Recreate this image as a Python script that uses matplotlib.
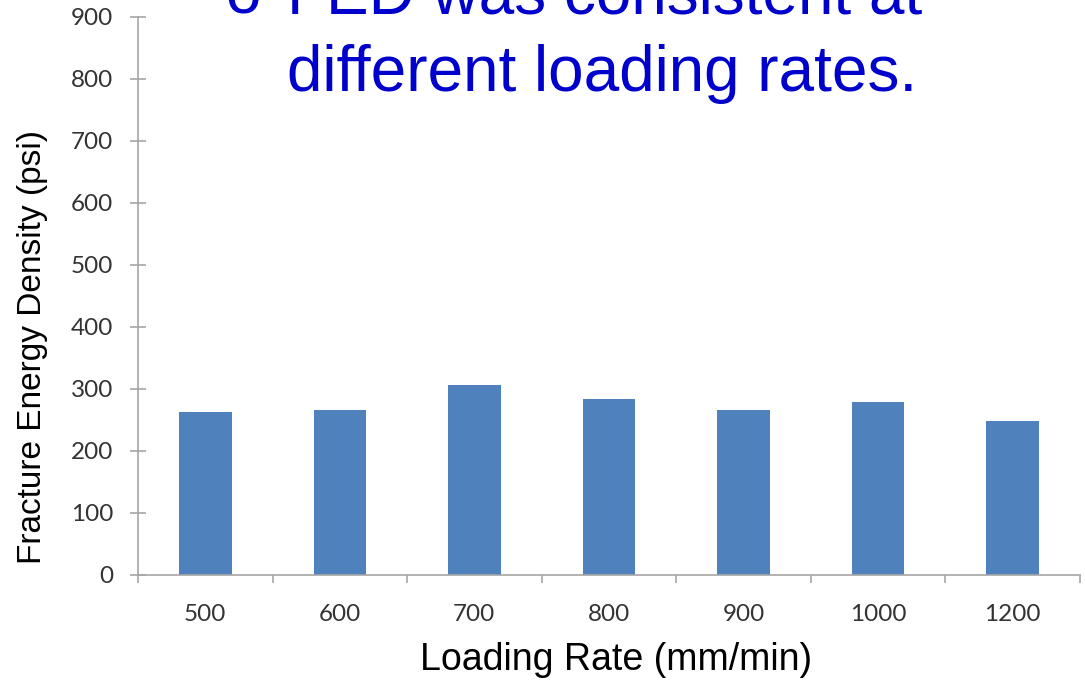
import matplotlib.pyplot as plt
import numpy as np

# datos de la grafica
tasas = ['500', '600', '700', '800', '900', '1000', '1200']
fed = [263, 266, 306, 284, 266, 279, 248]

lineas_titulo = ['FED was consistent at', 'different loading rates.']

plt.rcParams['font.family'] = ['Liberation Sans', 'DejaVu Sans']

fig = plt.figure(figsize=(10.85, 6.85), dpi=100)
ax = fig.add_axes([0.1272, 0.1606, 0.868, 0.8146])

x = np.arange(len(tasas))
ax.bar(x, fed, width=0.39, color='#4F81BD', zorder=2)

ax.set_xlim(-0.5, len(tasas) - 0.5)
ax.set_ylim(0, 900)
ax.set_yticks(range(0, 901, 100))

# etiquetas en el centro, marcas entre categorias
ax.set_xticks(x)
ax.set_xticklabels(tasas)
ax.set_xticks(np.arange(-0.5, len(tasas)), minor=True)

gris = '#A6A6A6'
for lado in ['top', 'right']:
    ax.spines[lado].set_visible(False)
for lado in ['left', 'bottom']:
    ax.spines[lado].set_color(gris)
    ax.spines[lado].set_linewidth(1.2)

ax.tick_params(axis='x', which='major', length=0, pad=21,
               labelsize=17.5, labelcolor='#333333')
ax.tick_params(axis='x', which='minor', length=6, width=1.2, color=gris, direction='out')
ax.tick_params(axis='y', length=12, width=1.2, color=gris, direction='inout',
               pad=12, labelsize=17.5, labelcolor='#333333')
for lbl in ax.get_xticklabels() + ax.get_yticklabels():
    lbl.set_family(['Lato', 'DejaVu Sans'])

fig.text(33 / 1085, 1 - 347 / 685, 'Fracture Energy Density (psi)',
         rotation=90, ha='center', va='center', fontsize=24, color='black')
fig.text(616 / 1085, 1 - 660 / 685, 'Loading Rate (mm/min)',
         ha='center', va='center', fontsize=27, color='black')

# texto de la diapositiva, la primera linea queda cortada arriba
azul = '#0000CC'
fig.text(225 / 1085, 1 - 14 / 685, 'o', ha='left', va='baseline',
         fontsize=46, color=azul)
fig.text(287 / 1085, 1 - 14 / 685, lineas_titulo[0], ha='left', va='baseline',
         fontsize=46, color=azul)
fig.text(287 / 1085, 1 - 91 / 685, lineas_titulo[1], ha='left', va='baseline',
         fontsize=46, color=azul)

plt.savefig('out.png', dpi=100)
